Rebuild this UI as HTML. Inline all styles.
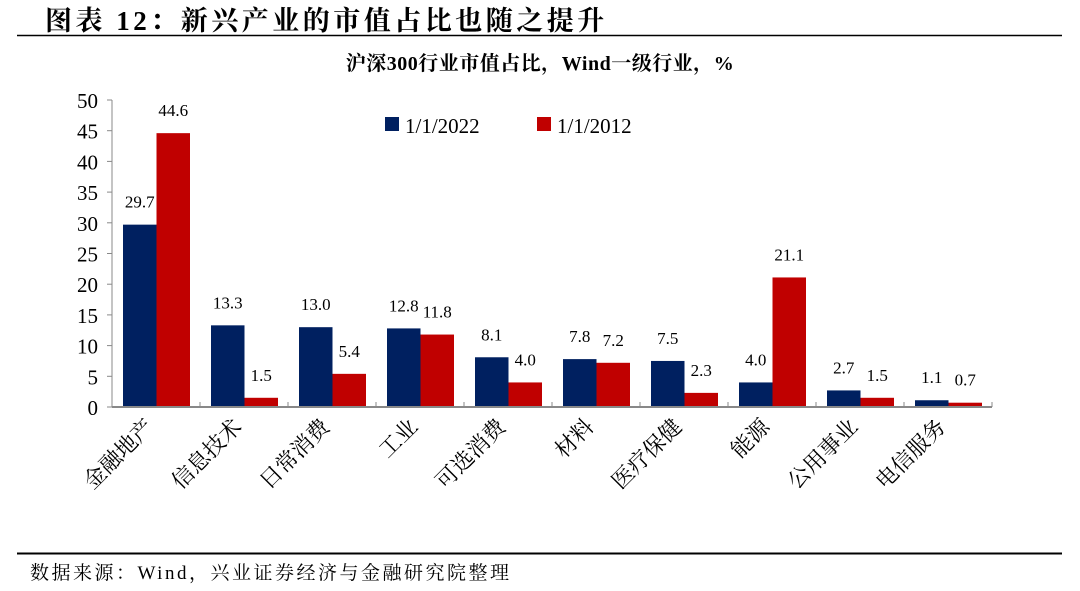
<!DOCTYPE html>
<html><head><meta charset="utf-8">
<style>
body{margin:0;width:1080px;height:586px;background:#fff;overflow:hidden;font-family:"Liberation Serif","Noto Serif CJK SC",serif;}
</style></head>
<body>
<svg width="1080" height="586" xmlns="http://www.w3.org/2000/svg">
<text x="45" y="30" font-size="27" font-weight="bold" letter-spacing="3.5" font-family="Liberation Serif,Noto Serif CJK SC,serif" fill="#000">图表 12：新兴产业的市值占比也随之提升</text>
<line x1="17" y1="35.5" x2="1062" y2="35.5" stroke="#000" stroke-width="1.5"/>
<text x="540" y="70" text-anchor="middle" font-size="20" font-weight="bold" letter-spacing="0.5" font-family="Liberation Serif,Noto Serif CJK SC,serif">沪深300行业市值占比，Wind一级行业，%</text>
<g id="plot"></g>
<rect x="385" y="117" width="14" height="14" fill="#002060"/>
<text x="405" y="133" font-size="21">1/1/2022</text>
<rect x="537" y="117" width="14" height="14" fill="#c00000"/>
<text x="557" y="133" font-size="21">1/1/2012</text>
<line x1="17" y1="553.5" x2="1062" y2="553.5" stroke="#000" stroke-width="2"/>
<text x="30" y="579" font-size="19" letter-spacing="2.5" font-family="Liberation Serif,Noto Serif CJK SC,serif">数据来源：Wind，兴业证券经济与金融研究院整理</text>
</svg>
<script>
const categories=["金融地产","信息技术","日常消费","工业","可选消费","材料","医疗保健","能源","公用事业","电信服务"];
const series2022=[29.7,13.3,13.0,12.8,8.1,7.8,7.5,4.0,2.7,1.1];
const series2012=[44.6,1.5,5.4,11.8,4.0,7.2,2.3,21.1,1.5,0.7];
const yTicks=[0,5,10,15,20,25,30,35,40,45,50];
const NS="http://www.w3.org/2000/svg";
const g=document.getElementById('plot');
const x0=112,band=88,y0=407,yTop=100,yMax=50;
const y=v=>y0-(v/yMax)*(y0-yTop);
const bx=i=>x0+i*band;
function mk(t,a){const e=document.createElementNS(NS,t);for(const k in a)e.setAttribute(k,a[k]);g.appendChild(e);return e;}
yTicks.forEach(t=>{
 const l=mk('line',{x1:x0-5,x2:x0,y1:y(t),y2:y(t),stroke:'#888'});
 
 
 const tx=mk('text',{x:x0-14,y:y(t)+8,'text-anchor':'end','font-size':'21'});
 tx.textContent=t;
 
 
});
categories.forEach((c,i)=>{
 const bw=33.5,l=bx(i)+11;
 [[series2022[i],'#002060',l,'bar-2022'],[series2012[i],'#c00000',l+bw,'bar-2012']].forEach(([v,col,xx,nm])=>{
  const r=mk('rect',{x:xx,y:y(v),width:bw,height:y0-y(v),fill:col});
  
  
  const t=mk('text',{x:xx+bw/2,y:y(v)-17,'text-anchor':'middle','font-size':'17'});
  t.textContent=v.toFixed(1);
  
  
 });
 const tk=mk('line',{x1:bx(i+1),x2:bx(i+1),y1:y0,y2:y0-5,stroke:'#888'});
 
 
 const cx=bx(i)+band/2-1, cy=428;
 const lab=mk('text',{x:cx,y:cy,'text-anchor':'end','font-size':'22',transform:`rotate(-45 ${cx} ${cy})`,'font-family':'Liberation Serif,Noto Serif CJK SC,serif'});
 lab.textContent=c;
 
 
});
const ya=mk('line',{x1:x0,x2:x0,y1:yTop,y2:y0,stroke:'#888'});


const xa=mk('line',{x1:x0,x2:x0+band*10,y1:y0,y2:y0,stroke:'#888','stroke-width':'2'});


</script>
</body></html>
